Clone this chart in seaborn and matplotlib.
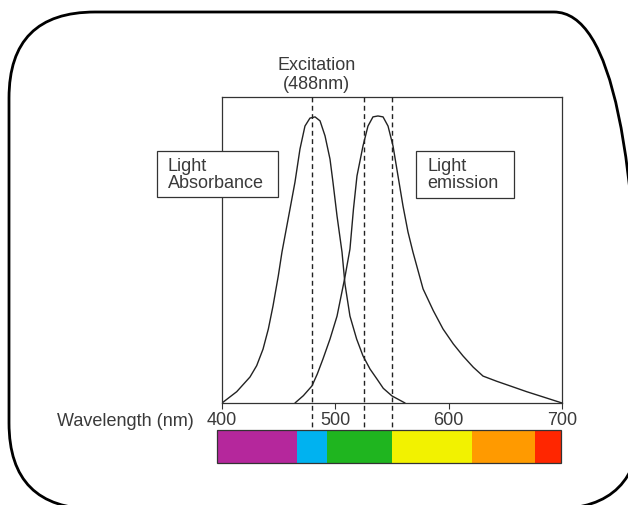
import numpy as np
import pandas as pd
import matplotlib
matplotlib.use("Agg")
import matplotlib.pyplot as plt
from matplotlib.patches import Rectangle, FancyBboxPatch
from matplotlib.transforms import IdentityTransform
import seaborn as sns

# absorbance curve (wavelength nm, relative intensity)
abs_nm = [400, 413.0, 424.7, 430.6, 436.2, 440.9, 445.0, 449.7, 452.9, 460.0, 464.4,
          468.8, 473.2, 477.6, 482.1, 486.5, 490.9, 495.3, 497.9, 501.5, 505.9, 508.5,
          512.9, 518.8, 524.4, 530.6, 536.8, 542.3, 550.0, 561.5]
abs_val = [0, 0.037, 0.085, 0.122, 0.176, 0.242, 0.317, 0.416, 0.493, 0.634, 0.722,
           0.830, 0.905, 0.931, 0.935, 0.922, 0.873, 0.797, 0.722, 0.611, 0.493, 0.389,
           0.284, 0.209, 0.154, 0.111, 0.078, 0.048, 0.023, 0]

# emission curve
em_nm = [464.4, 471.8, 479.4, 484.1, 489.1, 495.3, 501.5, 508.5, 512.9, 516.0, 519.1,
         524.4, 528.8, 533.2, 537.6, 542.1, 546.5, 550.9, 555.3, 559.7, 564.1, 568.5,
         577.4, 586.4, 595.0, 604.1, 612.6, 621.7, 630.3, 642.4, 654.1, 668.8, 683.2, 700]
em_val = [0, 0.024, 0.056, 0.095, 0.144, 0.209, 0.284, 0.412, 0.503, 0.634, 0.742,
          0.840, 0.905, 0.935, 0.938, 0.935, 0.905, 0.840, 0.742, 0.644, 0.559, 0.493,
          0.373, 0.302, 0.242, 0.193, 0.154, 0.117, 0.088, 0.071, 0.056, 0.037, 0.020, 0]

# dashed marker lines
marker_nm = [479, 525, 550]

# visible spectrum bands
band_start = [395.6, 466, 493, 550, 621, 676]
band_end = [466, 493, 550, 621, 676, 699]
band_colors = ["#b5279c", "#00b2f0", "#1fb51f", "#f2f200", "#ff9a00", "#ff2600"]

ticks = [400, 500, 600, 700]

sns.set_style("white")
plt.rcParams["font.family"] = ["Liberation Sans", "DejaVu Sans"]
txt_color = "#3a3a3a"

df_abs = pd.DataFrame({"nm": abs_nm, "val": abs_val})
df_em = pd.DataFrame({"nm": em_nm, "val": em_val})

W, H = 628, 506
fig = plt.figure(figsize=(6.28, 5.06), dpi=100)
ax = fig.add_axes([222 / W, 1 - 404 / H, 340 / W, 306 / H])

sns.lineplot(data=df_abs, x="nm", y="val", ax=ax, color="#222222", lw=1.0, sort=False)
sns.lineplot(data=df_em, x="nm", y="val", ax=ax, color="#222222", lw=1.0, sort=False)

ax.set_xlim(400, 700)
ax.set_ylim(0, 1)
ax.set_yticks([])
ax.set_xticks(ticks)
ax.set_xlabel("")
ax.set_ylabel("")
ax.tick_params(axis="x", direction="out", length=4, width=0.8, pad=2,
               labelsize=13, labelcolor=txt_color, color="#333333", bottom=True)
for s in ax.spines.values():
    s.set_color("#333333")
    s.set_linewidth(0.9)

# dashed lines run from the top of the plot down through the spectrum bar
bar_bottom = -(464 - 404) / 306
for x in marker_nm:
    ax.plot([x, x], [1, bar_bottom], ls=(0, (3.5, 2.5)), color="#222222",
            lw=1.0, clip_on=False, zorder=5)

ax.text(-0.082, -0.056, "Wavelength (nm)", transform=ax.transAxes, ha="right",
        va="center", fontsize=13, color=txt_color)
ax.text(0.279, 1.075, "Excitation\n(488nm)", transform=ax.transAxes, ha="center",
        va="center", fontsize=13, color=txt_color, linespacing=1.1)

# label boxes
for (x0, x1, y0, y1, tx, label) in [(-0.191, 0.165, 0.673, 0.824, -0.159, "Light\nAbsorbance"),
                                    (0.571, 0.859, 0.670, 0.824, 0.603, "Light\nemission")]:
    ax.add_patch(Rectangle((x0, y0), x1 - x0, y1 - y0, transform=ax.transAxes,
                           facecolor="white", edgecolor="#333333", lw=0.9,
                           clip_on=False, zorder=6))
    ax.text(tx, (y0 + y1) / 2, label, transform=ax.transAxes, ha="left", va="center",
            fontsize=13, color=txt_color, linespacing=1.0, zorder=7)

# spectrum bar
bx = fig.add_axes([222 / W, 1 - 464 / H, 340 / W, 33 / H])
bx.set_xlim(400, 700)
bx.set_ylim(0, 1)
for s0, s1, c in zip(band_start, band_end, band_colors):
    bx.barh(0.5, s1 - s0, left=s0, height=1, color=c, edgecolor="none", clip_on=False)
bx.barh(0.5, band_end[-1] - band_start[0], left=band_start[0], height=1,
        fill=False, edgecolor="#333333", lw=0.9, clip_on=False)
bx.axis("off")

# rounded outer frame (right and bottom edges run just past the image)
frame = FancyBboxPatch((9, H - 510), 631, 497, boxstyle="round,pad=0,rounding_size=86",
                       transform=IdentityTransform(), facecolor="none",
                       edgecolor="black", lw=2.0)
fig.add_artist(frame)

fig.savefig("out.png", dpi=100)
